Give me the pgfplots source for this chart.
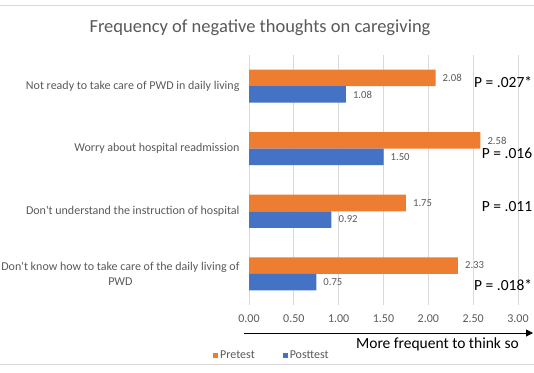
\documentclass[border=0pt]{standalone}
\usepackage{pgfplots}
\pgfplotsset{compat=1.18}
\usepackage{fontspec}
\setmainfont{Carlito}
\usetikzlibrary{arrows.meta}
\definecolor{cOr}{HTML}{ED7D31}
\definecolor{cBl}{HTML}{4472C4}
\definecolor{cTx}{HTML}{595959}
\definecolor{cGr}{HTML}{D9D9D9}
\begin{document}
\begin{tikzpicture}[x=1pt,y=1pt]
\useasboundingbox (0,0) rectangle (534,372);
\draw[cGr, line width=0.8pt] (0,367) -- (534,367);
\draw[cGr, line width=0.8pt] (0,8) -- (534,8);
\node[font=\fontsize{18.5}{22}\selectfont, text=cTx] at (260,344) {Frequency of negative thoughts on caregiving};
\begin{axis}[
  at={(249pt,67pt)}, anchor=south west,
  scale only axis, width=269pt, height=250pt,
  xmin=0, xmax=3, ymin=-0.5, ymax=3.5,
  xbar, bar width=16.5pt,
  clip=false,
  xtick={0,0.5,1,1.5,2,2.5,3},
  /pgf/number format/.cd, fixed, fixed zerofill, precision=2, assume math mode=true, /pgfplots/.cd,
  ytick={0,1,2,3},
  yticklabels={{Don\textquotesingle t know how to take care of the daily living of\\PWD},
               {Don\textquotesingle t understand the instruction of hospital},
               {Worry about hospital readmission},
               {Not ready to take care of PWD in daily living}},
  axis line style={draw=none}, major tick length=0pt,
  xmajorgrids, grid style={cGr, line width=0.8pt},
  ticklabel style={font=\fontsize{12}{14.4}\selectfont, text=cTx},
  yticklabel style={align=center, xshift=-6pt},
  xticklabel style={yshift=-6pt},
  nodes near coords,
  every node near coord/.append style={font=\fontsize{10.7}{12}\selectfont, text=cTx, inner sep=1pt, xshift=6pt},
  legend style={draw=none, fill=none, at={(-0.145,-0.2)}, anchor=west, legend columns=2,
    font=\fontsize{12}{14.4}\selectfont, text=cTx,
    /tikz/every even column/.append style={column sep=26pt},
    nodes={inner sep=2pt}},
]
\addplot[fill=cOr, draw=none, bar shift=8.25pt,
  legend image code/.code={\fill[cOr] (0pt,-2.5pt) rectangle (5pt,2.5pt);}]
  coordinates {(2.33,0) (1.75,1) (2.58,2) (2.08,3)};
\addplot[fill=cBl, draw=none, bar shift=-8.25pt,
  legend image code/.code={\fill[cBl] (0pt,-2.5pt) rectangle (5pt,2.5pt);}]
  coordinates {(0.75,0) (0.92,1) (1.50,2) (1.08,3)};
\legend{Pretest, Posttest}
\node[anchor=east, inner sep=0pt, font=\fontsize{15.5}{18}\selectfont] at (axis cs:3.16,3.07) {P = .027*};
\node[anchor=west, inner sep=0pt, font=\fontsize{15.5}{18}\selectfont] at (axis cs:2.595,1.92) {P = .016};
\node[anchor=west, inner sep=0pt, font=\fontsize{15.5}{18}\selectfont] at (axis cs:2.595,1.07) {P = .011};
\node[anchor=east, inner sep=0pt, font=\fontsize{15.5}{18}\selectfont] at (axis cs:3.16,-0.18) {P = .018*};
\end{axis}
\draw[line width=1pt, -{Triangle[length=7pt,width=7pt]}] (244,39) -- (533,39);
\node[anchor=east, inner sep=0pt, font=\fontsize{15.5}{18}\selectfont] at (519,28) {More frequent to think so};
\end{tikzpicture}
\end{document}
